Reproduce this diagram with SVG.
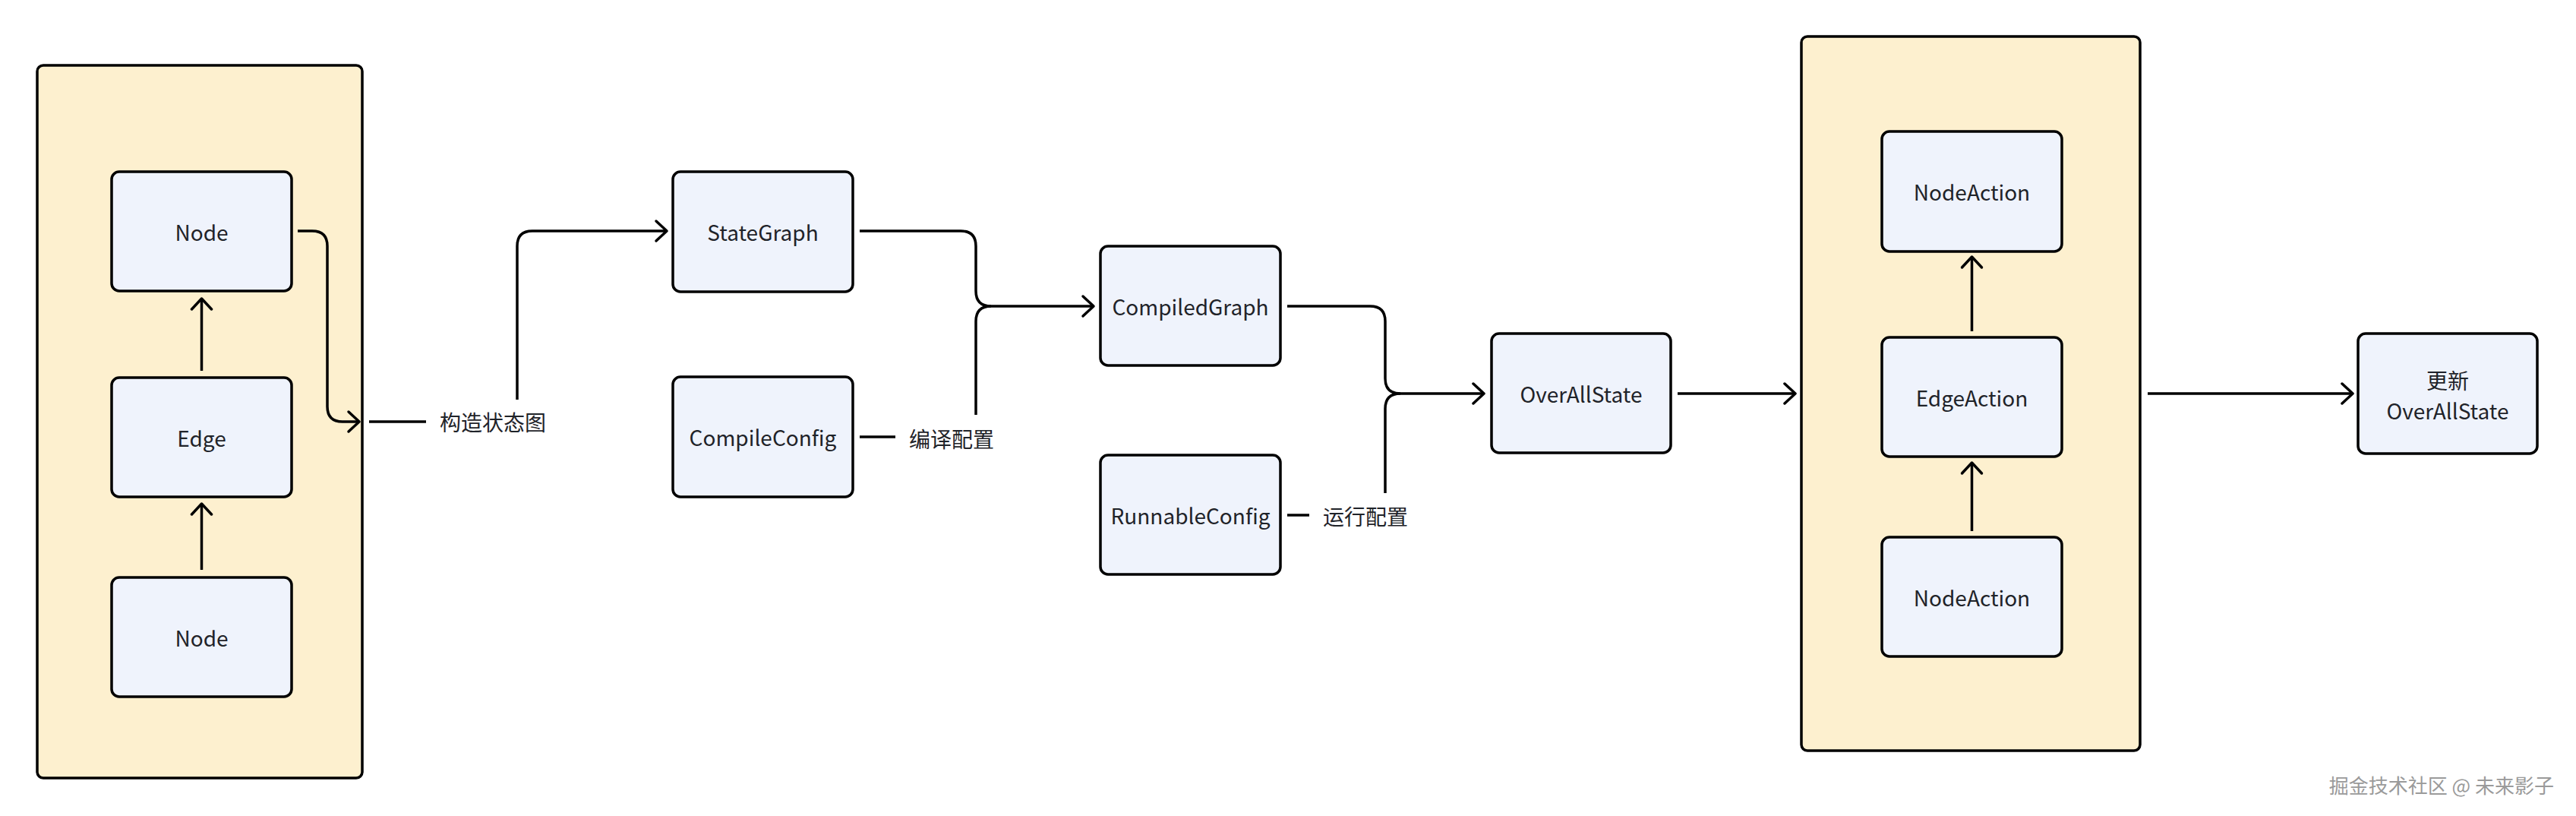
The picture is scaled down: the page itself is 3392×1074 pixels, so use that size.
<svg xmlns="http://www.w3.org/2000/svg" width="3392" height="1074" viewBox="0 0 3392 1074">
<defs>
<marker id="arr" markerUnits="userSpaceOnUse" markerWidth="40" markerHeight="40" viewBox="-20 -20 40 40" refX="0" refY="0" orient="auto">
<path d="M-14,-13 L0,0 L-14,13" fill="none" stroke="#000" stroke-width="3.5" stroke-linecap="round" stroke-linejoin="round"/>
</marker>
<style>
.container{fill:#FDF0CF;stroke:#000;stroke-width:3.5}
.box{fill:#EFF3FC;stroke:#000;stroke-width:3.5}
.t{font-family:"Noto Sans CJK SC","Noto Sans",sans-serif;font-size:28px;fill:#1F2329;text-anchor:middle;dominant-baseline:central}
.lbl{font-family:"Noto Sans CJK SC","Noto Sans",sans-serif;font-size:28px;fill:#1F2329;dominant-baseline:central}
.c{fill:none;stroke:#000;stroke-width:3.5}
.a{marker-end:url(#arr)}
.wm{font-family:"Noto Sans CJK SC",sans-serif;font-size:26px;fill:#9a9a9a;text-anchor:end;dominant-baseline:central}
</style>
</defs>
<rect width="3392" height="1074" fill="#fff"/>
<g id="container-left"><rect class="container" x="49" y="86" width="428" height="938" rx="8"/></g>
<g id="container-right"><rect class="container" x="2372" y="48" width="446" height="940" rx="8"/></g>
<g id="node-top"><rect class="box" x="147" y="226" width="237" height="157" rx="10"/><text class="t" x="265.5" y="305">Node</text></g>
<g id="edge"><rect class="box" x="147" y="497" width="237" height="157" rx="10"/><text class="t" x="265.5" y="575.5">Edge</text></g>
<g id="node-bottom"><rect class="box" x="147" y="760" width="237" height="157" rx="10"/><text class="t" x="265.5" y="838.5">Node</text></g>
<g id="stategraph"><rect class="box" x="886" y="226" width="237" height="158" rx="10"/><text class="t" x="1004.5" y="305">StateGraph</text></g>
<g id="compileconfig"><rect class="box" x="886" y="496" width="237" height="158" rx="10"/><text class="t" x="1004.5" y="575">CompileConfig</text></g>
<g id="compiledgraph"><rect class="box" x="1449" y="324" width="237" height="157" rx="10"/><text class="t" x="1567.5" y="402.5">CompiledGraph</text></g>
<g id="runnableconfig"><rect class="box" x="1449" y="599" width="237" height="157" rx="10"/><text class="t" x="1567.5" y="677.5">RunnableConfig</text></g>
<g id="overallstate"><rect class="box" x="1964" y="439" width="236" height="157" rx="10"/><text class="t" x="2082" y="517.5">OverAllState</text></g>
<g id="nodeaction-top"><rect class="box" x="2478" y="173" width="237" height="158" rx="10"/><text class="t" x="2596.5" y="252">NodeAction</text></g>
<g id="edgeaction"><rect class="box" x="2478" y="444" width="237" height="157" rx="10"/><text class="t" x="2596.5" y="522.5">EdgeAction</text></g>
<g id="nodeaction-bottom"><rect class="box" x="2478" y="707" width="237" height="157" rx="10"/><text class="t" x="2596.5" y="785.5">NodeAction</text></g>
<g id="update-state"><rect class="box" x="3105" y="439" width="236" height="158" rx="10"/><text class="t" x="3223" y="500">更新</text><text class="t" x="3223" y="540">OverAllState</text></g>
<g id="connectors">
<path class="c a" d="M265.5,488 V393"/>
<path class="c a" d="M265.5,750 V663"/>
<path class="c a" d="M392,304 H411 Q431,304 431,324 V535 Q431,555 451,555 H473"/>
<path class="c" d="M486,555 H561"/>
<path class="c a" d="M681,526 V324 Q681,304 701,304 H878"/>
<path class="c" d="M1132,575 H1179"/>
<path class="c a" d="M1132,304 H1265 Q1285,304 1285,324 V383 Q1285,403 1305,403 H1440"/>
<path class="c" d="M1285,546 V423 Q1285,403 1305,403"/>
<path class="c" d="M1695,678 H1724"/>
<path class="c a" d="M1695,403 H1804 Q1824,403 1824,423 V498 Q1824,518 1844,518 H1954"/>
<path class="c" d="M1824,649 V538 Q1824,518 1844,518"/>
<path class="c a" d="M2209,518 H2364"/>
<path class="c a" d="M2596.5,436 V338"/>
<path class="c a" d="M2596.5,699 V609"/>
<path class="c a" d="M2828,518 H3098"/>
</g>
<g id="labels">
<text class="lbl" x="579" y="555">构造状态图</text>
<text class="lbl" x="1197" y="577">编译配置</text>
<text class="lbl" x="1742" y="679">运行配置</text>
</g>
<text class="wm" x="3363" y="1032">掘金技术社区 @ 未来影子</text>
</svg>
